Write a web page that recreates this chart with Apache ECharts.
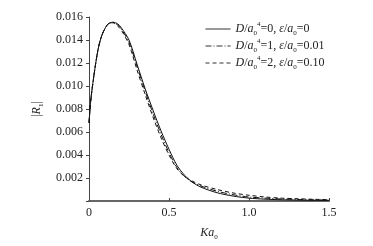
<!DOCTYPE html>
<html>
<head>
<meta charset="utf-8">
<script src="https://cdn.jsdelivr.net/npm/echarts@6/dist/echarts.min.js"></script>
<style>
  html, body { margin: 0; padding: 0; background: #fff; }
  #container { width: 373px; height: 246px; }
</style>
</head>
<body>
<div id="container"></div>
<script>
// Ka0 values (x) and |R1| for the three cases
var ka0 = [0, 0.01, 0.02, 0.04, 0.06, 0.08, 0.10, 0.12, 0.15, 0.18, 0.20, 0.25, 0.30, 0.35, 0.40, 0.45, 0.50, 0.55, 0.60, 0.65, 0.70, 0.80, 0.90, 1.00, 1.10, 1.20, 1.30, 1.40, 1.50];
var r1Case0 = [0.0068, 0.0086, 0.0098, 0.0118, 0.0134, 0.0144, 0.0150, 0.0154, 0.01555, 0.0154, 0.0151, 0.0140, 0.0119, 0.0098, 0.0079, 0.0061, 0.0045, 0.0031, 0.0022, 0.0016, 0.0012, 0.00072, 0.00043, 0.00025, 0.00016, 0.00011, 0.00008, 0.00006, 0.00005];
var r1Case1 = [0.0068, 0.0086, 0.0098, 0.0118, 0.0134, 0.0144, 0.0150, 0.0154, 0.01553, 0.0153, 0.0150, 0.0138, 0.0117, 0.0096, 0.0076, 0.0058, 0.0042, 0.0029, 0.0021, 0.0016, 0.0013, 0.00085, 0.00055, 0.00035, 0.00025, 0.00018, 0.00014, 0.00010, 0.00008];
var r1Case2 = [0.0068, 0.0086, 0.0098, 0.0118, 0.0134, 0.0144, 0.0150, 0.0154, 0.01550, 0.0152, 0.0149, 0.0136, 0.0114, 0.0093, 0.0073, 0.0055, 0.0040, 0.0028, 0.0021, 0.0017, 0.0014, 0.0010, 0.0007, 0.0005, 0.00035, 0.00025, 0.0002, 0.00015, 0.00012];
var seriesNames = ['c0', 'c1', 'c2'];
var legendLabels = {
  c0: '{i|D}/{i|a}{sub|0}{sup|4}=0, {i|ε}/{i|a}{sub|0}=0',
  c1: '{i|D}/{i|a}{sub|0}{sup|4}=1, {i|ε}/{i|a}{sub|0}=0.01',
  c2: '{i|D}/{i|a}{sub|0}{sup|4}=2, {i|ε}/{i|a}{sub|0}=0.10'
};
var yTicks = { min: 0, max: 0.016, interval: 0.002 };
var xTicks = { min: 0, max: 1.5, interval: 0.5 };

function pairs(ys) {
  var out = [];
  for (var i = 0; i < ka0.length; i++) out.push([ka0[i], ys[i]]);
  return out;
}

var font = 'Liberation Serif';
var richText = {
  n: { fontFamily: font, fontSize: 12, color: '#222' },
  i: { fontFamily: font, fontSize: 12, fontStyle: 'italic', color: '#222' },
  sub: { fontFamily: font, fontSize: 7, color: '#222', verticalAlign: 'bottom', lineHeight: 16 },
  sup: { fontFamily: font, fontSize: 7, color: '#222', verticalAlign: 'top', lineHeight: 16 }
};

var myChart = echarts.init(document.getElementById('container'), null, {renderer: 'canvas'});
myChart.setOption({
  backgroundColor: '#fff',
  animation: false,
  grid: { left: 89, right: 44, top: 17, bottom: 41 },
  legend: {
    data: seriesNames,
    orient: 'vertical',
    left: 200,
    top: 16,
    itemGap: 1,
    itemWidth: 25,
    itemHeight: 14,
    itemStyle: { opacity: 0 },
    lineStyle: { width: 1, color: '#333' },
    formatter: function (name) { return legendLabels[name]; },
    textStyle: { fontFamily: font, fontSize: 12, color: '#222', rich: richText }
  },
  xAxis: {
    type: 'value',
    min: xTicks.min,
    max: xTicks.max,
    interval: xTicks.interval,
    name: '{i|Ka}{sub|0}',
    nameLocation: 'middle',
    nameGap: 24,
    nameTextStyle: { rich: richText },
    axisLine: { lineStyle: { color: '#666', width: 2 } },
    axisTick: { inside: true, length: 3, lineStyle: { color: '#444' } },
    axisLabel: {
      fontFamily: font, fontSize: 12, color: '#222', margin: 6,
      formatter: function (v) { return v === 0 ? '0' : v.toFixed(1); }
    },
    splitLine: { show: false }
  },
  yAxis: {
    type: 'value',
    min: yTicks.min,
    max: yTicks.max,
    interval: yTicks.interval,
    name: '|{i|R}{sub|1}|',
    nameLocation: 'middle',
    nameRotate: 90,
    nameGap: 41,
    nameTextStyle: { fontFamily: font, fontSize: 12, color: '#444', rich: richText },
    axisLine: { show: true, lineStyle: { color: '#444', width: 1 } },
    axisTick: { show: true, length: 3, lineStyle: { color: '#444' } },
    axisLabel: {
      fontFamily: font, fontSize: 12, color: '#222', margin: 6,
      formatter: function (v) { return v === 0 ? '' : v.toFixed(3); }
    },
    splitLine: { show: false }
  },
  series: [
    {
      name: 'c0', type: 'line', data: pairs(r1Case0), smooth: 0.3, showSymbol: false, symbol: 'none',
      lineStyle: { color: '#111', width: 1, type: 'solid' }, itemStyle: { color: '#111' }
    },
    {
      name: 'c1', type: 'line', data: pairs(r1Case1), smooth: 0.3, showSymbol: false, symbol: 'none',
      lineStyle: { color: '#111', width: 1, type: [6, 2, 1, 2] }, itemStyle: { color: '#111' }
    },
    {
      name: 'c2', type: 'line', data: pairs(r1Case2), smooth: 0.3, showSymbol: false, symbol: 'none',
      lineStyle: { color: '#111', width: 1, type: [4, 3] }, itemStyle: { color: '#111' }
    }
  ]
});
</script>
</body>
</html>
